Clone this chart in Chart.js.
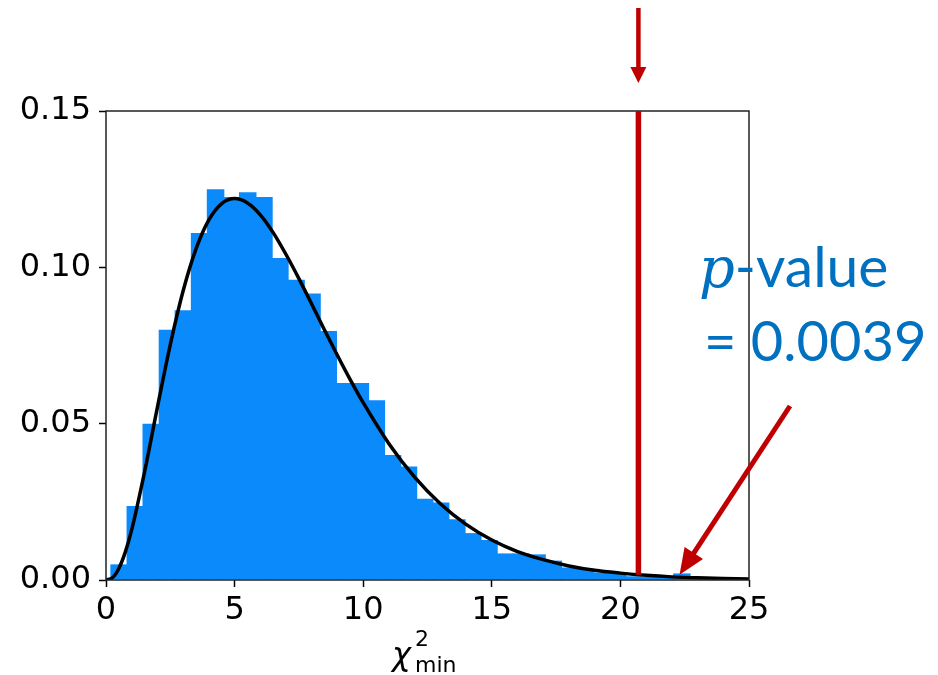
<!DOCTYPE html>
<html>
<head>
<meta charset="utf-8">
<script src="https://cdn.jsdelivr.net/npm/chart.js@4/dist/chart.umd.min.js"></script>
<style>
  html, body { margin: 0; padding: 0; background: #fff; }
  #wrap { width: 938px; height: 675px; position: relative; }
</style>
</head>
<body>
<div id="wrap"><canvas id="chi2Chart" width="938" height="675"></canvas></div>
<script>
// histogram of chi2_min (bin centres and normalised heights)
const binCenters = [0.51, 1.14, 1.76, 2.39, 3.01, 3.64, 4.26, 4.89, 5.51, 6.14,
  6.76, 7.39, 8.01, 8.64, 9.26, 9.89, 10.51, 11.14, 11.76, 12.39,
  13.01, 13.64, 14.26, 14.89, 15.51, 16.14, 16.76, 17.39, 18.01, 18.64,
  19.26, 19.89, 20.51, 21.14, 21.76, 22.39, 23.01, 23.64];
const binHeights = [0.005, 0.0237, 0.050, 0.080, 0.0863, 0.111, 0.125, 0.1225, 0.124, 0.1225,
  0.103, 0.096, 0.0916, 0.0796, 0.063, 0.063, 0.0575, 0.040, 0.0363, 0.026,
  0.0248, 0.0194, 0.015, 0.0128, 0.0085, 0.0085, 0.0082, 0.0062, 0.004, 0.0036,
  0.0024, 0.0022, 0.0012, 0.001, 0.0012, 0.0021, 0.0006, 0.0003];

// fitted curve
const curveX = [0, 0.25, 0.5, 0.75, 1, 1.5, 2, 2.5, 3, 3.5, 4, 4.5, 5, 5.5, 6, 6.5, 7, 7.5,
  8, 8.5, 9, 9.5, 10, 11, 12, 13, 14, 15, 16, 17, 18, 19, 20, 21, 22, 23, 24, 25];
const curveY = [0, 0.0007, 0.0037, 0.0089, 0.0161, 0.0346, 0.0553, 0.0753, 0.0925, 0.1059,
  0.1152, 0.1204, 0.1220, 0.1206, 0.1168, 0.1111, 0.1041, 0.0964, 0.0882, 0.0799,
  0.0718, 0.0640, 0.0567, 0.0436, 0.0329, 0.0244, 0.0178, 0.0128, 0.0091, 0.0065,
  0.0045, 0.0031, 0.0022, 0.0015, 0.0010, 0.0007, 0.0005, 0.0003];

const xTicks = [0, 5, 10, 15, 20, 25];
const yTicks = [0, 0.05, 0.10, 0.15];
const observedChi2 = 20.7;
const pValueText = "0.0039";

const red = "#c00000";
const blue = "#0070c0";

const overlay = {
  id: "overlay",
  afterDraw(chart) {
    const { ctx, chartArea, scales } = chart;
    const x = scales.x;
    const y = scales.y;
    ctx.save();

    // frame (matplotlib spines)
    ctx.strokeStyle = "#222";
    ctx.lineWidth = 1.5;
    ctx.strokeRect(chartArea.left, chartArea.top, chartArea.right - chartArea.left, chartArea.bottom - chartArea.top);

    // observed value line
    const ox = x.getPixelForValue(observedChi2);
    ctx.strokeStyle = red;
    ctx.lineWidth = 5.5;
    ctx.beginPath();
    ctx.moveTo(ox, chartArea.top);
    ctx.lineTo(ox, y.getPixelForValue(0.0017));
    ctx.stroke();

    const arrow = (x1, y1, x2, y2, w, headLen, headW) => {
      const ang = Math.atan2(y2 - y1, x2 - x1);
      const bx = x2 - headLen * Math.cos(ang);
      const by = y2 - headLen * Math.sin(ang);
      ctx.strokeStyle = red;
      ctx.fillStyle = red;
      ctx.lineWidth = w;
      ctx.beginPath();
      ctx.moveTo(x1, y1);
      ctx.lineTo(bx + Math.cos(ang), by + Math.sin(ang));
      ctx.stroke();
      ctx.beginPath();
      ctx.moveTo(x2, y2);
      ctx.lineTo(bx + headW * Math.sin(ang), by - headW * Math.cos(ang));
      ctx.lineTo(bx - headW * Math.sin(ang), by + headW * Math.cos(ang));
      ctx.closePath();
      ctx.fill();
    };

    // arrow from the top
    arrow(ox, 8, ox, 83, 4.5, 16, 8);
    // arrow to the tail
    arrow(790, 406, x.getPixelForValue(22.3), y.getPixelForValue(0.0017), 5, 26, 11);

    // p-value text
    ctx.fillStyle = blue;
    ctx.textBaseline = "alphabetic";
    ctx.textAlign = "left";
    ctx.font = "italic 56px 'DejaVu Serif'";
    ctx.fillText("p", 699, 287);
    const pw = ctx.measureText("p").width;
    ctx.font = "57px Lato";
    ctx.fillText("-value", 699 + pw, 287);
    ctx.font = "56px Lato";
    ctx.fillText("= " + pValueText, 704, 361);

    // axis title chi^2_min
    ctx.fillStyle = "#000";
    ctx.font = "italic 32px 'DejaVu Sans'";
    ctx.fillText("\u03c7", 392, 665);
    ctx.font = "22px 'DejaVu Sans'";
    ctx.fillText("2", 415, 646);
    ctx.fillText("min", 415, 672);
    ctx.restore();
  },
};

new Chart(document.getElementById("chi2Chart"), {
  data: {
    datasets: [
      {
        type: "line",
        data: curveX.map((v, i) => ({ x: v, y: curveY[i] })),
        borderColor: "#000",
        borderWidth: 3.5,
        pointRadius: 0,
        cubicInterpolationMode: "monotone",
        fill: false,
        order: 1,
      },
      {
        type: "bar",
        data: binCenters.map((v, i) => ({ x: v, y: binHeights[i] })),
        backgroundColor: "#0b8afc",
        borderWidth: 0,
        barPercentage: 1.1,
        categoryPercentage: 1,
        order: 2,
      },
    ],
  },
  options: {
    responsive: false,
    animation: false,
    layout: { padding: { left: 0, right: 189, top: 111, bottom: 45 } },
    plugins: { legend: { display: false }, tooltip: { enabled: false } },
    scales: {
      x: {
        type: "linear",
        min: 0,
        max: 25,
        offset: false,
        afterBuildTicks(scale) {
          scale.ticks = xTicks.map((v) => ({ value: v }));
        },
        afterFit(scale) {
          scale.height = 50;
        },
        border: { display: false },
        grid: { offset: false, drawOnChartArea: false, tickLength: 7, color: "#000", tickWidth: 1.5 },
        ticks: {
          color: "#000",
          font: { family: "DejaVu Sans", size: 32 },
          padding: 4,
          maxRotation: 0,
          callback: (v) => String(v),
        },
      },
      y: {
        min: 0,
        max: 0.15,
        afterBuildTicks(scale) {
          scale.ticks = yTicks.map((v) => ({ value: v }));
        },
        afterFit(scale) {
          scale.width = 106;
        },
        border: { display: false },
        grid: { drawOnChartArea: false, tickLength: 7, color: "#000", tickWidth: 1.5 },
        ticks: {
          color: "#000",
          font: { family: "DejaVu Sans", size: 32 },
          padding: 8,
          callback: (v) => Number(v).toFixed(2),
        },
      },
    },
  },
  plugins: [overlay],
});
</script>
</body>
</html>
